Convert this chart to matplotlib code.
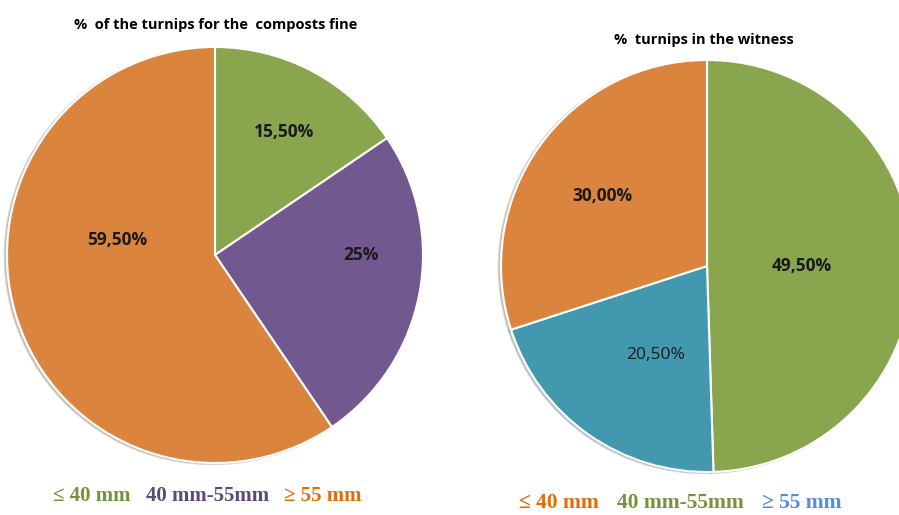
import matplotlib
matplotlib.use("Agg")
import matplotlib.pyplot as plt

# Compost plot: share of turnips by diameter class
compost_classes = ["\u2264 40 mm", "40 mm-55mm", "\u2265 55 mm"]
compost_values = [15.5, 25.0, 59.5]
compost_labels = ["15,50%", "25%", "59,50%"]

# Witness plot
witness_classes = ["\u2264 40 mm", "40 mm-55mm", "\u2265 55 mm"]
witness_values = [49.5, 20.5, 30.0]
witness_labels = ["49,50%", "20,50%", "30,00%"]

ORANGE = "#DB843D"
GREEN = "#89A54E"
PURPLE = "#71588F"
BLUE = "#4198AF"

W, H = 899, 515
fig = plt.figure(figsize=(W / 100, H / 100), dpi=100)
fig.patch.set_facecolor("white")


def pie_axes(cx, cy, r):
    """Axes square around a pie centred at pixel (cx, cy) with radius r."""
    ax = fig.add_axes([(cx - r) / W, 1 - (cy + r) / H, 2 * r / W, 2 * r / H])
    ax.axis("off")
    return ax


def fix_limits(ax):
    ax.set_xlim(-1, 1)
    ax.set_ylim(-1, 1)
    ax.set_aspect("equal")


label_font = dict(family=["Open Sans", "DejaVu Sans"], fontsize=12.5, color="#1a1a1a")
shadow_style = dict(ox=-0.008, oy=-0.004, shade=0.6, alpha=0.2)

# Left pie
ax1 = pie_axes(215, 255, 208)
ax1.pie(compost_values, colors=[GREEN, PURPLE, ORANGE], startangle=90,
        counterclock=False, radius=1.0,
        wedgeprops=dict(edgecolor="white", linewidth=1.5),
        shadow=shadow_style)
fix_limits(ax1)
label_pos1 = [(0.33, 0.59), (0.70, 0.0), (-0.47, 0.07)]
for (x, y), t in zip(label_pos1, compost_labels):
    ax1.text(x, y, t, ha="center", va="center", fontweight="bold", **label_font)

# Right pie
ax2 = pie_axes(707, 266, 206)
ax2.pie(witness_values, colors=[GREEN, BLUE, ORANGE], startangle=90,
        counterclock=False, radius=1.0,
        wedgeprops=dict(edgecolor="white", linewidth=1.5),
        shadow=shadow_style)
fix_limits(ax2)
label_pos2 = [(0.46, 0.0), (-0.25, -0.43), (-0.51, 0.34)]
weights2 = ["bold", "normal", "bold"]
for (x, y), t, w in zip(label_pos2, witness_labels, weights2):
    ax2.text(x, y, t, ha="center", va="center", fontweight=w, **label_font)

# Titles
title_font = dict(family=["Open Sans", "DejaVu Sans"], fontsize=10.5,
                  fontweight="bold", color="black", ha="center", va="center")
fig.text(216 / W, 1 - 25 / H, "%  of the turnips for the  composts fine", **title_font)
fig.text(704 / W, 1 - 40 / H, "%  turnips in the witness", **title_font)

# Legends as coloured text runs
def text_run(x0, y, parts, gap, size):
    x = x0
    renderer = fig.canvas.get_renderer()
    for s, c in parts:
        t = fig.text(x / W, 1 - y / H, s, color=c, ha="left", va="center",
                     family=["Liberation Serif", "DejaVu Serif"], fontsize=size,
                     fontweight="bold")
        bb = t.get_window_extent(renderer=renderer)
        x += bb.width + gap


text_run(53, 496, list(zip(compost_classes, ["#76923C", "#5F497A", "#E36C09"])), 15, 15)
text_run(519, 503, list(zip(witness_classes, ["#E36C09", "#76923C", "#558ED5"])), 18, 15.5)

fig.savefig("out.png", dpi=100, facecolor="white")
